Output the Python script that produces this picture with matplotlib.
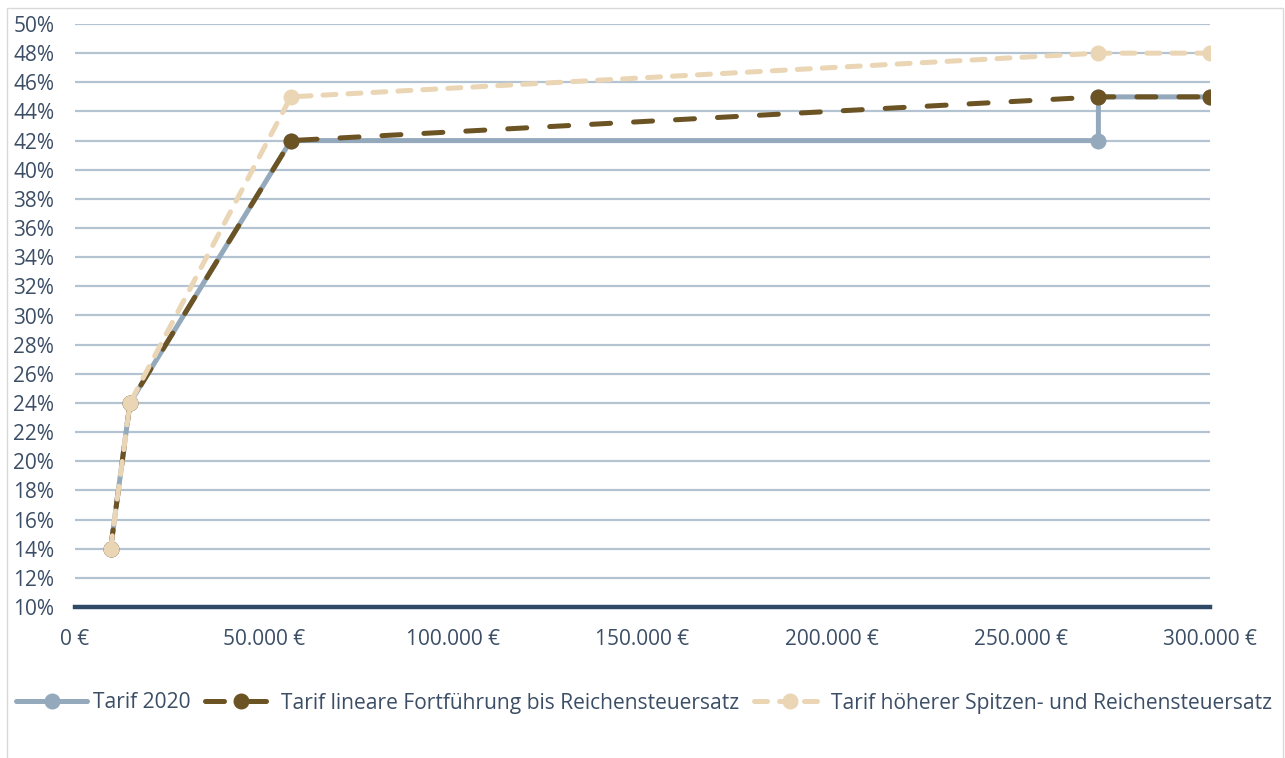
import matplotlib
matplotlib.use("Agg")
import matplotlib.pyplot as plt
from matplotlib.ticker import FuncFormatter, MultipleLocator
from matplotlib.patches import Rectangle

# Data
x_2020 = [9408, 14532, 57051, 270500, 270500, 300000]
y_2020 = [14, 24, 42, 42, 45, 45]
x_linear = [9408, 14532, 57051, 270500, 300000]
y_linear = [14, 24, 42, 45, 45]
x_higher = [9408, 14532, 57051, 270500, 300000]
y_higher = [14, 24, 45, 48, 48]
labels = ["Tarif 2020",
          "Tarif lineare Fortführung bis Reichensteuersatz",
          "Tarif höherer Spitzen- und Reichensteuersatz"]

plt.rcParams['font.family'] = ['Open Sans', 'DejaVu Sans']
text_color = '#3B4E66'

fig = plt.figure(figsize=(12.85, 7.58), dpi=100)
ax = fig.add_axes([75/1285, 1-607/758, (1210-75)/1285, (607-24)/758])

c2020 = '#94A9BC'
clin = '#6B5323'
chigh = '#EAD5B5'
lw = 3.6
ms = 10.5

ax.plot(x_2020, y_2020, color=c2020, lw=lw, marker='o', ms=ms, label=labels[0],
        solid_capstyle='round', zorder=3)
l2, = ax.plot(x_linear, y_linear, color=clin, lw=lw, marker='o', ms=ms, label=labels[1],
              dash_capstyle='round', zorder=4)
l2.set_dashes((3.8, 4.6))
l3, = ax.plot(x_higher, y_higher, color=chigh, lw=lw, marker='o', ms=ms, label=labels[2],
              dash_capstyle='round', zorder=5)
l3.set_dashes((2.6, 2.4))

ax.set_xlim(0, 300000)
ax.set_ylim(10, 50)
ax.yaxis.set_major_locator(MultipleLocator(2))
ax.xaxis.set_major_locator(MultipleLocator(50000))
ax.yaxis.set_major_formatter(FuncFormatter(lambda v, p: f"{int(round(v))}%"))
ax.xaxis.set_major_formatter(FuncFormatter(lambda v, p: f"{int(v):,} €".replace(",", ".")))
ax.grid(axis='y', color='#B4C3D1', lw=1.6, zorder=0)
ax.set_axisbelow(True)
for s in ['top', 'right', 'left']:
    ax.spines[s].set_visible(False)
ax.spines['bottom'].set_color('#2E4A66')
ax.spines['bottom'].set_linewidth(3.2)
ax.spines['bottom'].set_zorder(6)
ax.tick_params(axis='both', length=0, labelsize=15, colors=text_color)
ax.tick_params(axis='x', pad=16)
ax.tick_params(axis='y', pad=15)

leg = fig.legend(loc='center', bbox_to_anchor=(644/1285, 1-703/758), ncol=3,
                 frameon=False, fontsize=15.1, handlelength=3.4, handletextpad=0.25,
                 columnspacing=0.7, labelcolor=text_color, markerscale=1.0)

fig.patches.append(Rectangle((7/1285, -0.01), (1283-7)/1285, 1-8/758+0.01,
                             transform=fig.transFigure, fill=False,
                             edgecolor='#D9D9D9', lw=1.0))

fig.savefig('out.png', dpi=100, facecolor='white')
